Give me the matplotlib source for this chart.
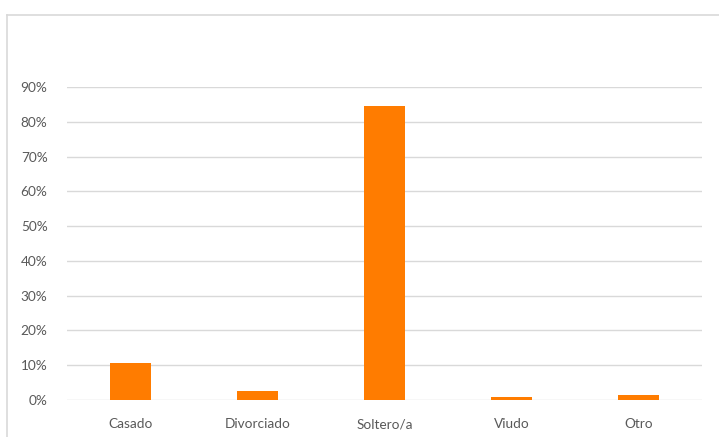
import matplotlib.pyplot as plt
from matplotlib.lines import Line2D
from matplotlib.ticker import PercentFormatter

categories = ["Casado", "Divorciado", "Soltero/a", "Viudo", "Otro"]
values = [0.106, 0.026, 0.845, 0.009, 0.014]
y_ticks = [0, 0.1, 0.2, 0.3, 0.4, 0.5, 0.6, 0.7, 0.8, 0.9]

plt.rcParams['font.family'] = ['Lato', 'DejaVu Sans']

W, H = 719, 437
fig = plt.figure(figsize=(W / 100, H / 100), dpi=100)
ax = fig.add_axes([67 / W, 1 - 400 / H, (702 - 67) / W, (400 - 87) / H])

x = range(len(categories))
ax.bar(x, values, width=0.315, color='#FF7C00', zorder=3)

ax.set_xlim(-0.5, len(categories) - 0.5)
ax.set_ylim(0, 0.9)
ax.set_yticks(y_ticks)
ax.yaxis.set_major_formatter(PercentFormatter(1.0, decimals=0))
ax.set_xticks(list(x))
ax.set_xticklabels(categories)

ax.grid(axis='y', color='#D9D9D9', linewidth=1, zorder=0)
for s in ax.spines.values():
    s.set_visible(False)
ax.tick_params(axis='both', length=0, labelsize=9.8, colors='#595959')
ax.tick_params(axis='y', pad=14)
ax.tick_params(axis='x', pad=13)

# chart outer border (Excel chart area)
fig.add_artist(Line2D([7 / W, 1], [1 - 14.5 / H, 1 - 14.5 / H],
                      color='#D9D9D9', linewidth=1.2, transform=fig.transFigure))
fig.add_artist(Line2D([7 / W, 7 / W], [0, 1 - 14.5 / H],
                      color='#D9D9D9', linewidth=1.2, transform=fig.transFigure))

fig.savefig("out.png", dpi=100)
